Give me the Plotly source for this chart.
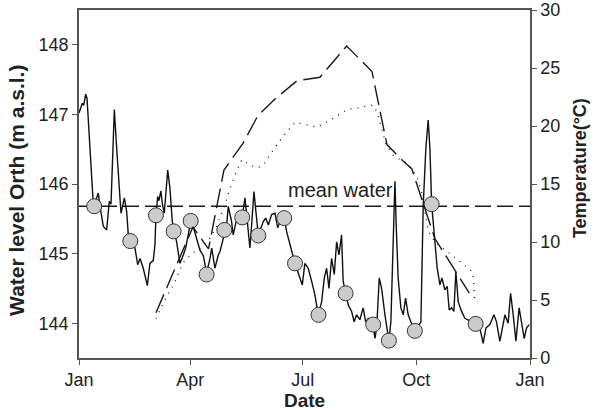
import plotly.graph_objects as go

# ---- data (day of year) ----
water_day = [0, 2.7, 3.8, 5.4, 6.5, 8.9, 10.8, 11.6, 14.3, 15.6, 17.0, 19.7, 22.4, 24.5, 25.9,
             28.6, 30.5, 32.4, 34.0, 36.7, 38.6, 39.9, 45.3, 47.5, 49.4, 52.0, 55.3, 57.4, 60.1,
             61.5, 62.3, 63.7, 64.7, 66.3, 67.4, 69.0, 71.8, 73.6, 75.5, 79.0, 81.7, 84.4, 86.3,
             88.4, 90.4, 92.2, 95.2, 97.9, 100.6, 103.3, 106.0, 107.4, 110.0, 112.7, 114.1, 116.7,
             119.5, 120.8, 122.2, 123.5, 124.8, 127.0, 128.9, 132.1, 134.3, 135.7, 138.3, 139.7,
             141.6, 143.2, 145.1, 149.1, 151.1, 153.2, 155.9, 158.6, 160.8, 162.6, 166.1, 168.0,
             169.3, 171.5, 174.8, 178.8, 180.7, 182.8, 185.5, 188.3, 190.9, 193.6, 196.4, 198.5,
             200.4, 202.3, 204.4, 206.6, 208.5, 210.4, 212.5, 213.8, 215.8, 217.9, 220.6, 222.7,
             224.7, 227.3, 230.0, 232.0, 234.1, 238.1, 239.5, 240.9, 243.0, 244.9, 247.6, 250.8,
             252.4, 253.5, 254.6, 255.7, 256.7, 258.3, 260.5, 262.4, 264.3, 266.4, 268.6, 271.8,
             274.5, 276.7, 278.6, 280.7, 282.6, 284.0, 285.4, 288.0, 289.9, 292.1, 293.7, 296.1,
             298.0, 299.6, 301.5, 303.4, 305.0, 306.9, 309.6, 312.3, 321.0, 324.4, 327.1, 329.3,
             332.5, 335.8, 337.9, 340.6, 342.8, 344.7, 347.3, 349.3, 351.4, 353.6, 356.2, 358.2,
             360.3, 362.2, 364.3]
water_level = [147.02, 147.16, 147.13, 147.29, 147.23, 146.56, 146.04, 145.70, 145.80, 145.87,
               145.68, 145.39, 145.34, 145.75, 145.71, 147.07, 146.51, 145.99, 145.58, 145.80,
               145.60, 145.27, 145.08, 144.84, 144.93, 144.79, 144.54, 144.86, 144.90, 145.13,
               145.56, 145.82, 145.76, 145.90, 145.72, 145.58, 146.20, 145.94, 145.46, 145.17,
               144.86, 144.98, 145.08, 145.27, 145.47, 145.40, 145.22, 145.05, 144.97, 144.72,
               144.93, 145.08, 144.79, 144.98, 145.03, 145.22, 145.41, 145.68, 145.56, 145.46,
               145.27, 145.46, 145.60, 145.52, 145.80, 145.56, 145.08, 145.41, 145.89, 145.60,
               145.26, 145.46, 145.51, 145.41, 145.56, 145.58, 145.37, 145.46, 145.51, 145.32,
               145.22, 145.08, 144.86, 144.65, 144.55, 144.86, 144.79, 144.60, 144.41, 144.12,
               144.31, 144.65, 144.79, 144.50, 144.93, 144.70, 145.17, 144.98, 145.27, 144.60,
               144.43, 144.26, 144.17, 144.02, 144.12, 144.05, 144.22, 144.02, 144.07, 143.98,
               143.78, 143.93, 144.65, 144.50, 144.12, 143.75, 144.02, 144.60, 145.37, 146.04,
               145.41, 144.65, 144.22, 144.12, 144.36, 144.12, 144.02, 143.89, 143.95, 144.02,
               145.70, 146.51, 146.92, 146.51, 145.71, 145.22, 144.79, 144.55, 144.65, 144.48,
               144.53, 144.19, 144.22, 144.17, 144.74, 144.31, 144.17, 144.07, 143.99, 143.93,
               143.71, 143.93, 143.98, 144.12, 144.02, 143.74, 143.93, 144.12, 144.00, 144.43,
               144.12, 143.74, 144.22, 144.02, 143.78, 143.93, 143.98]

sample_day = [12.3, 41.5, 62.3, 76.6, 90.4, 103.3, 117.6, 132.1, 145.1, 166.1, 174.8, 193.8,
              215.8, 238.1, 250.8, 271.8, 285.4, 321.0]
sample_level = [145.68, 145.18, 145.55, 145.32, 145.47, 144.70, 145.34, 145.52, 145.26, 145.51,
                144.86, 144.12, 144.43, 143.98, 143.75, 143.89, 145.71, 143.99]

temp_a_day = [62.3, 92.2, 104.8, 117.3, 132.7, 138.3, 144.8, 159.4, 176.4, 195.0, 216.6, 237.1,
              249.2, 262.1, 269.4, 278.3, 288.0, 315.9]
temp_a = [3.9, 11.3, 9.4, 16.2, 18.5, 19.6, 20.9, 22.4, 23.9, 24.2, 26.9, 24.7,
          18.4, 17.0, 16.3, 13.4, 10.3, 5.6]

temp_b_day = [62.3, 68.0, 77.7, 84.1, 91.4, 103.6, 110.8, 117.3, 122.2, 127.0, 131.9, 137.5,
              144.0, 148.9, 157.0, 165.0, 174.8, 180.4, 192.6, 203.1, 216.8, 237.9, 241.1,
              245.1, 248.4, 254.0, 261.3, 265.4, 269.4, 273.5, 277.5, 282.4, 288.0, 301.8,
              307.4, 313.1, 318.8, 320.4]
temp_b = [3.4, 4.7, 6.6, 8.2, 9.0, 9.9, 11.2, 13.0, 14.6, 16.0, 17.1, 16.7,
          16.4, 16.6, 17.9, 19.1, 20.3, 20.2, 19.9, 20.5, 21.4, 21.8, 21.2,
          19.8, 18.4, 17.5, 17.0, 16.8, 16.3, 15.6, 14.2, 11.0, 10.0, 8.9,
          8.4, 7.9, 7.4, 4.7]

mean_water = 145.68
month_ticks = [0, 90, 181, 273, 365]
month_labels = ["Jan", "Apr", "Jul", "Oct", "Jan"]

FONT = "Liberation Sans, Arial, sans-serif"
INK = "#222222"

fig = go.Figure()

fig.add_trace(go.Scatter(x=temp_a_day, y=temp_a, yaxis="y2", mode="lines",
                         line=dict(color="#1a1a1a", width=1.4, dash="20px,7px"),
                         showlegend=False))
fig.add_trace(go.Scatter(x=temp_b_day, y=temp_b, yaxis="y2", mode="lines",
                         line=dict(color="#1a1a1a", width=1.3, dash="1px,6px"),
                         showlegend=False))
fig.add_trace(go.Scatter(x=[0, 365], y=[mean_water, mean_water], mode="lines",
                         line=dict(color="#1a1a1a", width=1.4, dash="16px,6px"),
                         showlegend=False))
fig.add_trace(go.Scatter(x=water_day, y=water_level, mode="lines",
                         line=dict(color="#111111", width=1.4),
                         showlegend=False))
fig.add_trace(go.Scatter(x=sample_day, y=sample_level, mode="markers",
                         marker=dict(size=15, color="#cbcbcb",
                                     line=dict(color="#333333", width=1)),
                         showlegend=False))

fig.add_annotation(x=212, y=145.92, xref="x", yref="y", text="mean water",
                   showarrow=False, font=dict(family=FONT, size=20, color=INK))

# axis titles as annotations for precise placement
fig.add_annotation(x=-0.1375, y=0.483, xref="paper", yref="paper",
                   text="<b>Water level Orth (m a.s.l.)</b>", textangle=-90,
                   showarrow=False, xanchor="center", yanchor="middle",
                   font=dict(family=FONT, size=21, color=INK))
fig.add_annotation(x=1.111, y=0.546, xref="paper", yref="paper",
                   text="<b>Temperature(°C)</b>", textangle=-90,
                   showarrow=False, xanchor="center", yanchor="middle",
                   font=dict(family=FONT, size=18, color=INK))
fig.add_annotation(x=0.499, y=-0.122, xref="paper", yref="paper",
                   text="<b>Date</b>", showarrow=False, xanchor="center", yanchor="middle",
                   font=dict(family=FONT, size=19, color=INK))

axis_common = dict(showline=True, linecolor="#555555", linewidth=1.5, ticks="outside",
                   ticklen=5, tickcolor="#555555", showgrid=False, zeroline=False,
                   automargin=False,
                   tickfont=dict(family=FONT, size=18, color=INK))

fig.update_layout(
    width=600, height=410,
    margin=dict(l=79, r=70, t=10, b=52),
    plot_bgcolor="white", paper_bgcolor="white",
    font=dict(family=FONT, color=INK),
    xaxis=dict(range=[0, 365], tickvals=month_ticks, ticktext=month_labels, mirror=True,
               **axis_common),
    yaxis=dict(range=[143.5, 148.5], dtick=1, mirror=True, **axis_common),
    yaxis2=dict(range=[0, 30], dtick=5, overlaying="y", side="right", **axis_common),
)

fig.write_html("out.html", config={"displayModeBar": False},
               post_script="document.body.style.margin='0px';")
